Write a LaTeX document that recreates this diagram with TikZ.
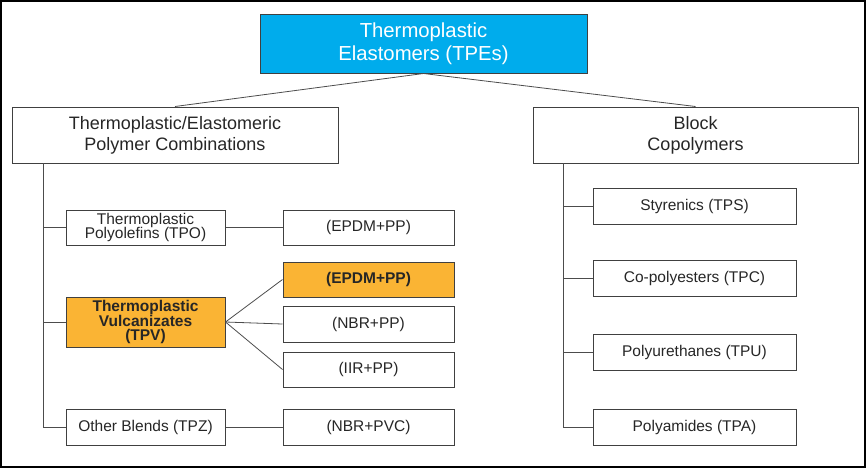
\documentclass[tikz,border=0pt]{standalone}
\usepackage{fontspec}
\setmainfont{Liberation Sans}
\definecolor{tpeblue}{RGB}{0,172,236}
\definecolor{tpvorange}{RGB}{250,180,52}
\definecolor{boxline}{RGB}{64,64,64}
\begin{document}
\begin{tikzpicture}[x=1pt,y=-1pt,
  box/.style={draw=boxline, line width=1pt, inner sep=0pt, align=center, text=black!85},
  bigbox/.style={box, font=\fontsize{18}{21}\selectfont},
  smallbox/.style={box, font=\fontsize{15.5}{14.5}\selectfont},
  hotbox/.style={smallbox, fill=tpvorange, font=\fontsize{15.5}{14.8}\selectfont\bfseries},
  link/.style={draw=black!70, line width=0.8pt}]
\useasboundingbox (0,0) rectangle (866,469);
\draw[line width=2pt] (1,1) rectangle (865,467);
% top level
\node[bigbox, fill=tpeblue, text=white, font=\fontsize{20.3}{23}\selectfont,
  minimum width=327pt, minimum height=59pt] (tpe) at (423.5,43.5) {Thermoplastic\\Elastomers (TPEs)};
\node[bigbox, minimum width=326pt, minimum height=56pt] (blend) at (175,135) {Thermoplastic/Elastomeric\\Polymer Combinations};
\node[bigbox, minimum width=325pt, minimum height=56pt] (block) at (695.5,135) {Block\\Copolymers};
\draw[link] (tpe.south) -- (blend.north);
\draw[link] (tpe.south) -- (block.north);
% left side
\node[smallbox, minimum width=159pt, minimum height=35pt] (tpo) at (145.5,227.5) {Thermoplastic\\Polyolefins (TPO)};
\node[hotbox, minimum width=159pt, minimum height=50pt] (tpv) at (145.5,322) {Thermoplastic\\Vulcanizates\\(TPV)};
\node[smallbox, minimum width=159pt, minimum height=36pt] (tpz) at (145.5,427) {Other Blends (TPZ)};
\node[smallbox, minimum width=171pt, minimum height=35pt] (epdma) at (368.5,227.5) {(EPDM+PP)};
\node[hotbox, minimum width=171pt, minimum height=35pt] (epdmb) at (368.5,279.5) {(EPDM+PP)};
\node[smallbox, minimum width=171pt, minimum height=36pt] (nbrpp) at (368.5,324) {(NBR+PP)};
\node[smallbox, minimum width=171pt, minimum height=35pt] (iirpp) at (368.5,369.5) {(IIR+PP)};
\node[smallbox, minimum width=171pt, minimum height=36pt] (nbrpvc) at (368.5,427) {(NBR+PVC)};
\coordinate (ltrunk) at (43,163);
\draw[link] (ltrunk) |- (tpz.west);
\draw[link] (ltrunk |- tpo.west) -- (tpo.west);
\draw[link] (ltrunk |- tpv.west) -- (tpv.west);
\draw[link] (tpo.east) -- (epdma.west);
\draw[link] (tpv.east) -- (epdmb.west);
\draw[link] (tpv.east) -- (nbrpp.west);
\draw[link] (tpv.east) -- (iirpp.west);
\draw[link] (tpz.east) -- (nbrpvc.west);
% right side
\node[smallbox, minimum width=203pt, minimum height=36pt] (tps) at (694.5,206) {Styrenics (TPS)};
\node[smallbox, minimum width=203pt, minimum height=36pt] (tpc) at (694.5,278) {Co-polyesters (TPC)};
\node[smallbox, minimum width=203pt, minimum height=36pt] (tpu) at (694.5,352) {Polyurethanes (TPU)};
\node[smallbox, minimum width=203pt, minimum height=36pt] (tpa) at (694.5,427) {Polyamides (TPA)};
\coordinate (rtrunk) at (563,163);
\draw[link] (rtrunk) |- (tpa.west);
\draw[link] (rtrunk |- tps.west) -- (tps.west);
\draw[link] (rtrunk |- tpc.west) -- (tpc.west);
\draw[link] (rtrunk |- tpu.west) -- (tpu.west);
\end{tikzpicture}
\end{document}
